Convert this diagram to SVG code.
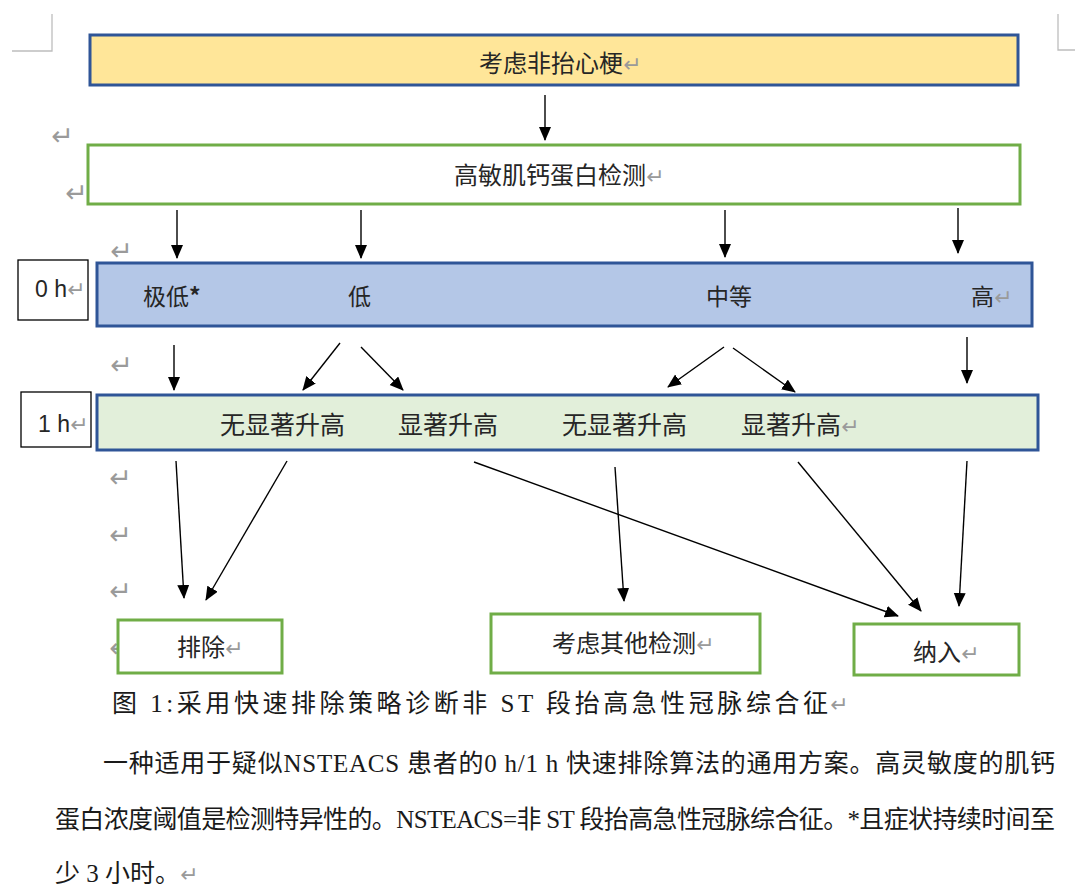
<svg xmlns="http://www.w3.org/2000/svg" width="1080" height="896" viewBox="0 0 1080 896">
<style>
.t{font-family:"Noto Sans CJK SC","Liberation Sans",sans-serif;fill:#262626;}
.s{font-family:"Liberation Serif","Noto Sans CJK SC",serif;fill:#1a1a1a;}
.r{font-family:"DejaVu Sans",sans-serif;fill:#9a9a9a;font-size:22px;}
.m{font-size:27px;}
.c{stroke:#000;stroke-width:1.4;fill:none;marker-end:url(#ah);}
.blue{stroke:#2F5597;stroke-width:3;}
.grn{stroke:#70AD47;stroke-width:3;fill:#fff;}
.tb{stroke:#000;stroke-width:1.3;fill:#fff;}
</style>
<defs>
<marker id="ah" markerUnits="userSpaceOnUse" markerWidth="14" markerHeight="14" refX="13" refY="6" orient="auto">
<path d="M0,0 L14,6 L0,12 Z" fill="#000"/>
</marker>
</defs>
<rect width="1080" height="896" fill="#fff"/>
<g id="corners" stroke="#bdbdbd" stroke-width="1.3" fill="none">
<polyline points="12,51 52,51 52,14"/>
<polyline points="1058,14 1058,50 1075,50"/>
</g>
<g id="marks">
<text class="r m" x="51" y="145">↵</text>
<text class="r m" x="65" y="202">↵</text>
<text class="r m" x="110" y="260">↵</text>
<text class="r m" x="110" y="374">↵</text>
<text class="r m" x="109" y="487">↵</text>
<text class="r m" x="109" y="544">↵</text>
<text class="r m" x="109" y="600">↵</text>
<text class="r m" x="109" y="657">↵</text>
</g>
<g id="n-start">
<rect x="90" y="35" width="928" height="50" fill="#FFE699" class="blue"/>
<text class="t" x="479" y="72" font-size="24">考虑非抬心梗<tspan class="r">↵</tspan></text>
</g>
<g id="n-test">
<rect x="88" y="145" width="932" height="59" class="grn"/>
<text class="t" x="454" y="184" font-size="24">高敏肌钙蛋白检测<tspan class="r">↵</tspan></text>
</g>
<g id="n-0h-label">
<rect x="18" y="260" width="70" height="60" class="tb"/>
<text x="35" y="297" font-family="Liberation Sans,sans-serif" font-size="23" fill="#262626">0 h<tspan class="r">↵</tspan></text>
</g>
<g id="n-0h">
<rect x="97" y="263" width="935" height="63" fill="#B4C7E7" class="blue"/>
<text class="t" x="143" y="305" font-size="23">极低<tspan font-weight="bold">*</tspan></text>
<text class="t" x="348" y="305" font-size="23">低</text>
<text class="t" x="706" y="305" font-size="23">中等</text>
<text class="t" x="971" y="305" font-size="23">高<tspan class="r">↵</tspan></text>
</g>
<g id="n-1h-label">
<rect x="21" y="392" width="70" height="55" class="tb"/>
<text x="38" y="432" font-family="Liberation Sans,sans-serif" font-size="23" fill="#262626">1 h<tspan class="r">↵</tspan></text>
</g>
<g id="n-1h">
<rect x="97" y="395" width="941" height="55" fill="#E2EFDA" class="blue"/>
<text class="t" x="220" y="434" font-size="25">无显著升高</text>
<text class="t" x="398" y="434" font-size="25">显著升高</text>
<text class="t" x="562" y="434" font-size="25">无显著升高</text>
<text class="t" x="741" y="434" font-size="25">显著升高<tspan class="r">↵</tspan></text>
</g>
<g id="connectors">
<line class="c" x1="545" y1="95" x2="545" y2="140"/>
<line class="c" x1="177" y1="210" x2="177" y2="258"/>
<line class="c" x1="361" y1="210" x2="361" y2="258"/>
<line class="c" x1="725" y1="210" x2="725" y2="257"/>
<line class="c" x1="958" y1="208" x2="958" y2="253"/>
<line class="c" x1="174" y1="345" x2="174" y2="390"/>
<line class="c" x1="340" y1="343" x2="303" y2="390"/>
<line class="c" x1="361" y1="347" x2="403" y2="390"/>
<line class="c" x1="724" y1="347" x2="668" y2="387"/>
<line class="c" x1="733" y1="348" x2="795" y2="392"/>
<line class="c" x1="967" y1="337" x2="967" y2="383"/>
<line class="c" x1="176" y1="461" x2="184" y2="598"/>
<line class="c" x1="287" y1="461" x2="206" y2="600"/>
<line class="c" x1="474" y1="462" x2="898" y2="616"/>
<line class="c" x1="615" y1="467" x2="624" y2="601"/>
<line class="c" x1="798" y1="462" x2="921" y2="611"/>
<line class="c" x1="967" y1="461" x2="959" y2="606"/>
</g>
<g id="n-exclude">
<rect x="118" y="620" width="164" height="53" class="grn"/>
<text class="t" x="177" y="656" font-size="24">排除<tspan class="r">↵</tspan></text>
</g>
<g id="n-other">
<rect x="491" y="614" width="269" height="59" class="grn"/>
<text class="t" x="552" y="652" font-size="24">考虑其他检测<tspan class="r">↵</tspan></text>
</g>
<g id="n-include">
<rect x="854" y="624" width="165" height="51" class="grn"/>
<text class="t" x="913" y="661" font-size="24">纳入<tspan class="r">↵</tspan></text>
</g>
<g id="caption">
<text class="s" x="112" y="712" font-size="25" textLength="716" lengthAdjust="spacing">图 1:采用快速排除策略诊断非 ST 段抬高急性冠脉综合征</text>
<text class="r" x="830" y="712">↵</text>
<text class="s" x="103" y="772" font-size="25" textLength="952" lengthAdjust="spacing">一种适用于疑似NSTEACS 患者的0  h/1  h 快速排除算法的通用方案。高灵敏度的肌钙</text>
<text class="s" x="55" y="828" font-size="25" textLength="1000" lengthAdjust="spacing">蛋白浓度阈值是检测特异性的。NSTEACS=非 ST 段抬高急性冠脉综合征。*且症状持续时间至</text>
<text class="s" x="55" y="882" font-size="25">少 3 小时。<tspan class="r">↵</tspan></text>
</g>
</svg>
